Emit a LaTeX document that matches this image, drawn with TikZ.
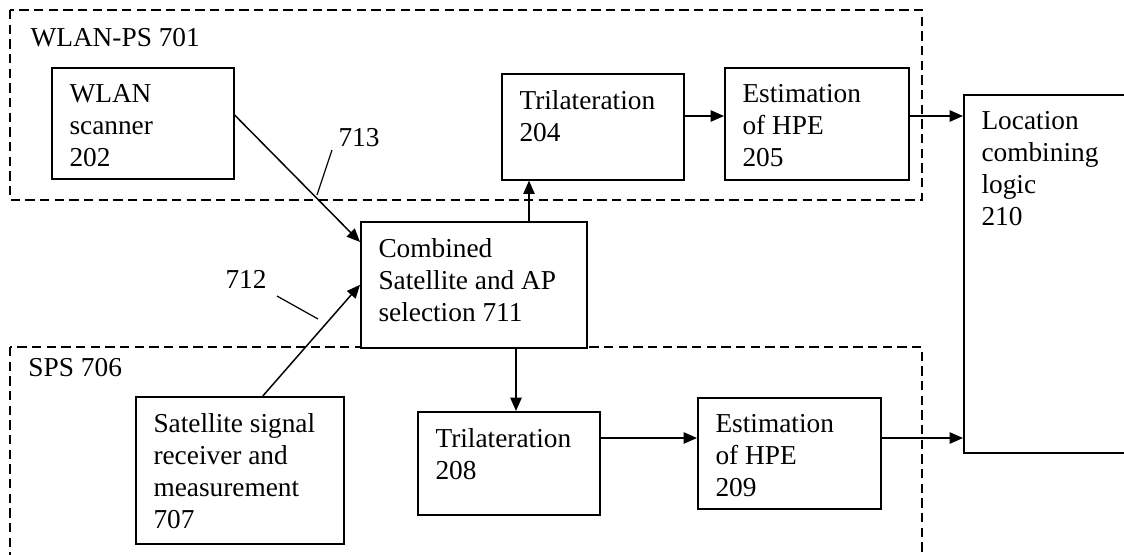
\documentclass[tikz,border=0pt]{standalone}
\usepackage{fontspec}
\setmainfont{Liberation Serif}
\usetikzlibrary{arrows.meta,calc}

\tikzset{every picture/.style={line width=0.75pt}}

\begin{document}
\begin{tikzpicture}[x=0.75pt,y=0.75pt,yscale=-1,xscale=1,
  blk/.style 2 args={draw, line width=1.2pt, inner sep=0pt, fill=white, anchor=north west,
    minimum width=#1*0.75pt, minimum height=#2*0.75pt},
  region/.style={draw, line width=1pt, dash pattern=on 7pt off 4pt},
  lbl/.style={anchor=north west, align=left, inner xsep=13.5pt, inner ysep=13pt, font=\fontsize{20.5}{24}\selectfont},
  txt/.style={inner sep=0pt, font=\fontsize{20.5}{24}\selectfont},
  arr/.style={line width=1.1pt, -{Triangle[length=10pt,width=8.5pt]}},
  lead/.style={line width=0.9pt}]
\useasboundingbox (0,0) rectangle (1124,554);
\clip (0,0) rectangle (1124,554);

% Regions
\draw[region] (10,10) rectangle (922,200);
\draw[region] (10,347) rectangle (922,580);
\node[txt, anchor=west] (wlanps) at (30,38) {WLAN-PS 701};
\node[txt, anchor=west] (sps) at (28,368) {SPS 706};

% Blocks
\node[blk={182}{111}, label={[lbl]north west:WLAN\\scanner\\202}] (wlan) at (51,67) {};
\node[blk={182}{106}, label={[lbl]north west:Trilateration\\204}] (tri1) at (501,73) {};
\node[blk={184}{112}, label={[lbl]north west:Estimation\\of HPE\\205}] (est1) at (724,67) {};
\node[blk={177}{358}, label={[lbl]north west:Location\\combining\\logic\\210}] (loc) at (963,94) {};
\node[blk={226}{126}, label={[lbl]north west:Combined\\Satellite and AP\\selection 711}] (comb) at (360,221) {};
\node[blk={208}{147}, label={[lbl]north west:Satellite signal\\receiver and\\measurement\\707}] (sat) at (135,396) {};
\node[blk={182}{103}, label={[lbl]north west:Trilateration\\208}] (tri2) at (417,411) {};
\node[blk={183}{111}, label={[lbl]north west:Estimation\\of HPE\\209}] (est2) at (697,397) {};

% Connections
\coordinate (wout) at ($(wlan.north east)+(0,48)$);
\coordinate (win) at ($(comb.north west)+(0,21)$);
\coordinate (sout) at ($(sat.north)+(23,0)$);
\coordinate (up) at ($(comb.north west)+(169,0)$);
\coordinate (dn) at ($(comb.south west)+(156,0)$);
\coordinate (t1out) at ($(tri1.north east)+(0,43)$);
\coordinate (e1out) at ($(est1.north east)+(0,49)$);
\coordinate (t2out) at ($(tri2.north east)+(0,27)$);
\coordinate (e2out) at ($(est2.north east)+(0,41)$);
\draw[arr] (wout) -- (win);
\draw[arr] (sout) -- (comb.west);
\draw[arr] (up) -- (up |- tri1.south);
\draw[arr] (dn) -- (dn |- tri2.north);
\draw[arr] (t1out) -- (t1out -| est1.west);
\draw[arr] (e1out) -- (e1out -| loc.west);
\draw[arr] (t2out) -- (t2out -| est2.west);
\draw[arr] (e2out) -- (e2out -| loc.west);

% Reference numerals
\node[txt] (n713) at (359,138) {713};
\node[txt] (n712) at (246,279) {712};
\coordinate (l713a) at (332,150);
\coordinate (l713b) at (317,195);
\coordinate (l712a) at (277,296);
\coordinate (l712b) at (318,319);
\draw[lead] (l713a) -- (l713b);
\draw[lead] (l712a) -- (l712b);

\end{tikzpicture}
\end{document}
